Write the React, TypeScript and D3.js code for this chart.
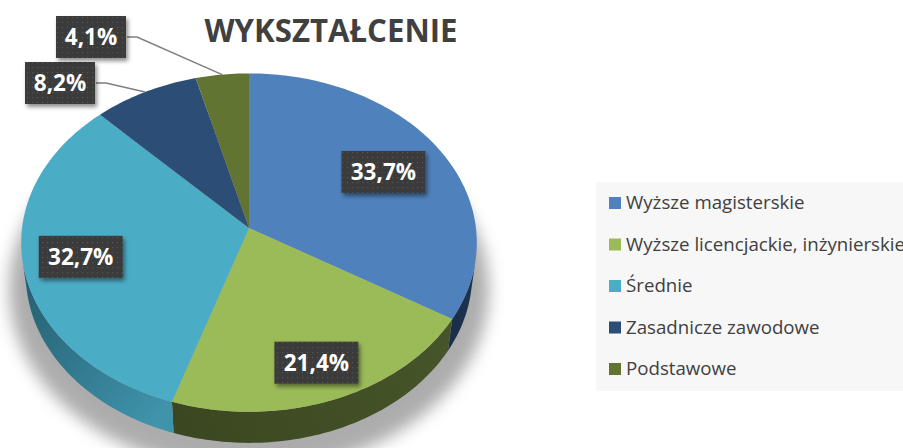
import React from 'react';
import * as d3 from 'd3';

const categories = ['Wyższe magisterskie', 'Wyższe licencjackie, inżynierskie', 'Średnie', 'Zasadnicze zawodowe', 'Podstawowe'];
const values = [33.7, 21.4, 32.7, 8.2, 4.1];
const valueLabels = ['33,7%', '21,4%', '32,7%', '8,2%', '4,1%'];
const title = 'WYKSZTAŁCENIE';

const topColors = ['#4F81BD', '#9BBB59', '#4BACC6', '#2C4D75', '#617432'];
const sideFrom = ['#1E3654', '#46552A', '#3F93AB', '#22405F', '#4A5A25'];
const sideTo = ['#1A2F4A', '#3B4720', '#235B6C', '#1B3350', '#3E4B1E'];

// layout config (not data)
const W = 903, H = 448;
const CX = 249, CY = 228, F = 1770, DIST = 7.8;
const SIN_E = 0.74, COS_E = Math.sqrt(1 - SIN_E * SIN_E);
const THICK = 0.215;
const labelRadius = [0.7, 0.8, 0.75, 0, 0];
const outsideBoxes: Record<number, { x: number; y: number }> = {
  3: { x: 25, y: 62 },
  4: { x: 56, y: 16 },
};

function proj(u: number, w: number, z: number): [number, number] {
  const depth = DIST - (w * COS_E + z * SIN_E);
  return [CX + (F * u) / depth, CY + (F * (w * SIN_E - z * COS_E)) / depth];
}
const rim = (a: number, r: number, z: number) => proj(r * Math.sin(a), -r * Math.cos(a), z);

function arcPts(a0: number, a1: number, r: number, z: number) {
  const n = Math.max(2, Math.ceil(((a1 - a0) * 180) / Math.PI));
  const pts: [number, number][] = [];
  for (let i = 0; i <= n; i++) pts.push(rim(a0 + ((a1 - a0) * i) / n, r, z));
  return pts;
}
const toPath = (pts: [number, number][]) => 'M' + pts.map((p) => p[0].toFixed(2) + ',' + p[1].toFixed(2)).join('L') + 'Z';

export default function App() {
  const arcs = d3.pie<number>().sort(null).value((d) => d)(values);
  const visMin = Math.acos(-1 / (DIST * COS_E)); // front-facing limit
  const visMax = 2 * Math.PI - visMin;

  const shadow = toPath(arcPts(0, 2 * Math.PI, 1.08, -THICK - 0.06));

  return (
    <svg width={W} height={H} style={{ position: 'absolute', left: 0, top: 0 }} fontFamily="'Open Sans', sans-serif">
      <defs>
        <filter id="blur" x="-20%" y="-20%" width="140%" height="140%">
          <feGaussianBlur stdDeviation="8" />
        </filter>
        <filter id="boxShadow" x="-20%" y="-20%" width="150%" height="160%">
          <feDropShadow dx="2" dy="3" stdDeviation="2" floodColor="#000" floodOpacity="0.45" />
        </filter>
        <pattern id="dots" width="5" height="5" patternUnits="userSpaceOnUse">
          <rect width="5" height="5" fill="#3A3A3A" />
          <rect x="2" y="2" width="1.2" height="1.2" fill="#555555" />
        </pattern>
        {arcs.map((a, i) => {
          const s = Math.max(a.startAngle, visMin), e = Math.min(a.endAngle, visMax);
          const p0 = rim(s, 1, 0), p1 = rim(e, 1, 0);
          return (
            <linearGradient key={i} id={'side' + i} gradientUnits="userSpaceOnUse" x1={p0[0]} y1={p0[1]} x2={p1[0]} y2={p1[1]}>
              <stop offset="0" stopColor={sideFrom[i]} />
              <stop offset="1" stopColor={sideTo[i]} />
            </linearGradient>
          );
        })}
      </defs>
      <rect width={W} height={H} fill="#FFFFFF" />
      <rect x={596} y={182} width={W - 596} height={209} fill="#F7F7F7" />

      <path d={shadow} fill="#8A8A8A" opacity={0.7} filter="url(#blur)" transform="translate(0,4)" />

      {/* side walls */}
      {arcs.map((a, i) => {
        const s = Math.max(a.startAngle, visMin), e = Math.min(a.endAngle, visMax);
        if (e <= s) return null;
        const top = arcPts(s, e, 1, 0);
        const bot = arcPts(s, e, 1, -THICK).reverse();
        return <path key={'w' + i} d={toPath([...top, ...bot])} fill={`url(#side${i})`} />;
      })}

      {/* top faces */}
      {arcs.map((a, i) => {
        const pts: [number, number][] = [proj(0, 0, 0), ...arcPts(a.startAngle, a.endAngle, 1, 0)];
        return <path key={'t' + i} d={toPath(pts)} fill={topColors[i]} />;
      })}

      {/* labels */}
      {arcs.map((a, i) => {
        const mid = (a.startAngle + a.endAngle) / 2;
        const txt = valueLabels[i];
        const bw = txt.length * 14 + 14, bh = 42;
        let bx: number, by: number;
        let leader: string | null = null;
        if (outsideBoxes[i]) {
          bx = outsideBoxes[i].x;
          by = outsideBoxes[i].y;
          const rp = rim(mid, 1, 0);
          const sx = bx + bw + 1, sy = by + bh / 2;
          leader = `M${sx},${sy}L${sx + 10},${sy}L${rp[0]},${rp[1]}`;
        } else {
          const c = rim(mid, labelRadius[i], 0);
          bx = c[0] - bw / 2;
          by = c[1] - bh / 2;
        }
        return (
          <g key={'l' + i}>
            {leader && <path d={leader} fill="none" stroke="#7F7F7F" strokeWidth={1.5} />}
            <rect x={bx} y={by} width={bw} height={bh} fill="url(#dots)" filter="url(#boxShadow)" />
            <text x={bx + bw / 2} y={by + bh / 2 + 8} textAnchor="middle" fill="#FFFFFF" fontWeight="bold" fontSize={22.5}>
              {txt}
            </text>
          </g>
        );
      })}

      <text x={331} y={42} textAnchor="middle" fontWeight="bold" fontSize={32} fill="#404040" textLength={253} lengthAdjust="spacingAndGlyphs">
        {title}
      </text>

      {/* legend */}
      {categories.map((c, i) => {
        const base = 209 + i * 41.5;
        return (
          <g key={'g' + i}>
            <rect x={609} y={base - 12} width={12} height={12} fill={topColors[i]} />
            <text x={626} y={base} fontSize={18.7} fill="#404040">
              {c}
            </text>
          </g>
        );
      })}
    </svg>
  );
}
